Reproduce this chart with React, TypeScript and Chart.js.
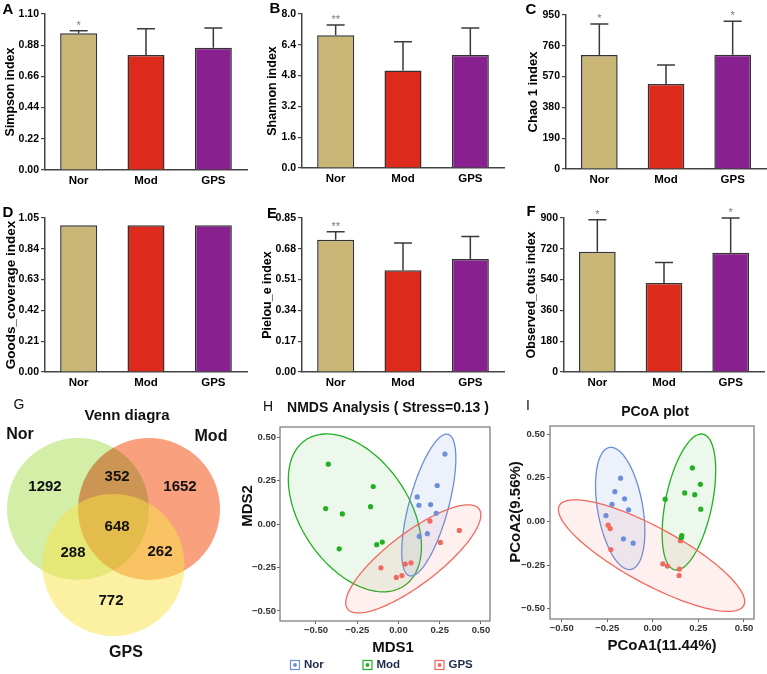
import React, { useEffect, useRef } from "react";
import { Chart, registerables } from "chart.js";

Chart.register(...registerables);

const FONT = "'Liberation Sans', Arial, Helvetica, sans-serif";

// ---------------- Alpha diversity (bar charts) ----------------
const groups = ["Nor", "Mod", "GPS"];
const barColors = ["#c9b677", "#dc2b1b", "#88208f"];

const simpsonMean = [0.964, 0.811, 0.862];
const simpsonSD = [0.018, 0.185, 0.139];
const simpsonSig = ["*", "", ""];
const simpsonTicks = [0, 0.22, 0.44, 0.66, 0.88, 1.1];

const shannonMean = [6.89, 5.07, 5.87];
const shannonSD = [0.54, 1.49, 1.4];
const shannonSig = ["**", "", ""];
const shannonTicks = [0, 1.6, 3.2, 4.8, 6.4, 8.0];

const chaoMean = [703, 524, 705];
const chaoSD = [191, 117, 206];
const chaoSig = ["*", "", "*"];
const chaoTicks = [0, 190, 380, 570, 760, 950];

const goodsMean = [1.0, 1.0, 1.0];
const goodsSD = [0, 0, 0];
const goodsSig = ["", "", ""];
const goodsTicks = [0, 0.21, 0.42, 0.63, 0.84, 1.05];

const pielouMean = [0.73, 0.561, 0.624];
const pielouSD = [0.044, 0.151, 0.124];
const pielouSig = ["**", "", ""];
const pielouTicks = [0, 0.17, 0.34, 0.51, 0.68, 0.85];

const otusMean = [703, 520, 697];
const otusSD = [187, 120, 203];
const otusSig = ["*", "", "*"];
const otusTicks = [0, 180, 360, 540, 720, 900];

// ---------------- Venn ----------------
const vennSets = ["Nor", "Mod", "GPS"];
const vennCounts = [1292, 352, 1652, 648, 288, 262, 772];
// layout of the Venn (in circle-radius units)
const vennCircleX = [-0.5, 0.5, 0];
const vennCircleY = [0.296, 0.296, -0.493];
const vennRadius = 1;
const vennCountX = [-0.965, 0.05, 0.937, 0.05, -0.57, 0.655, -0.035];
const vennCountY = [0.606, 0.746, 0.606, 0.042, -0.324, -0.31, -1.0];
const vennSetLabelX = [-1.317, 1.373, 0.176];
const vennSetLabelY = [1.338, 1.31, -1.732];

// ---------------- NMDS ----------------
const nmdsNorX = [0.282, 0.235, 0.114, 0.124, 0.195, 0.229, 0.175, 0.126];
const nmdsNorY = [0.404, 0.223, 0.157, 0.109, 0.113, 0.063, -0.055, -0.07];
const nmdsModX = [-0.425, -0.153, -0.441, -0.34, -0.169, -0.132, -0.098, -0.359];
const nmdsModY = [0.346, 0.217, 0.09, 0.059, 0.101, -0.118, -0.103, -0.142];
const nmdsGpsX = [0.191, 0.369, 0.254, -0.106, 0.041, 0.076, -0.013, 0.021];
const nmdsGpsY = [0.018, -0.036, -0.105, -0.251, -0.23, -0.223, -0.307, -0.296];
// [cx, cy, semi-major, semi-minor, angle deg]
const nmdsNorEllipse = [0.184, 0.11, 0.424, 0.119, 73.9];
const nmdsModEllipse = [-0.264, 0.065, 0.516, 0.322, -52.9];
const nmdsGpsEllipse = [0.09, -0.2, 0.492, 0.151, 35.6];
const ordTicks = [-0.5, -0.25, 0, 0.25, 0.5];

// ---------------- PCoA ----------------
const pcoaNorX = [-0.177, -0.208, -0.155, -0.224, -0.133, -0.257, -0.161, -0.108];
const pcoaNorY = [0.247, 0.17, 0.129, 0.098, 0.066, 0.033, -0.1, -0.125];
const pcoaModX = [0.217, 0.261, 0.175, 0.23, 0.068, 0.263, 0.159, 0.157];
const pcoaModY = [0.306, 0.212, 0.163, 0.153, 0.127, 0.07, -0.081, -0.092];
const pcoaGpsX = [-0.245, -0.234, -0.23, 0.055, 0.08, 0.146, 0.144, 0.151];
const pcoaGpsY = [-0.022, -0.041, -0.161, -0.243, -0.256, -0.273, -0.31, -0.111];
const pcoaNorEllipse = [-0.179, 0.074, 0.354, 0.124, 99.4];
const pcoaModEllipse = [0.198, 0.111, 0.396, 0.128, 78.9];
const pcoaGpsEllipse = [-0.007, -0.196, 0.581, 0.16, -29.7];

const ordColors = ["#6b8fd9", "#22b022", "#f2685e"];
const ordFills = ["rgba(107,143,217,0.12)", "rgba(34,176,34,0.09)", "rgba(242,104,94,0.1)"];

// ---------------- helpers ----------------
const fnt = (size: number, weight = "bold") => `${weight} ${size}px ${FONT}`;

function drawText(
  ctx: CanvasRenderingContext2D,
  s: string,
  x: number,
  y: number,
  font: string,
  color: string,
  align: CanvasTextAlign = "center",
  baseline: CanvasTextBaseline = "middle",
  rot = 0
) {
  ctx.save();
  ctx.font = font;
  ctx.fillStyle = color;
  ctx.textAlign = align;
  ctx.textBaseline = baseline;
  ctx.translate(x, y);
  if (rot) ctx.rotate(rot);
  ctx.fillText(s, 0, 0);
  ctx.restore();
}

const barPanels = [
  { letter: "A", letterAt: [8, 10], title: "Simpson index", titleSize: 12.5, titleX: 11, mean: simpsonMean, sd: simpsonSD, sig: simpsonSig, ticks: simpsonTicks, dec: 2, box: [0, 0, 255, 195], plot: [45, 247, 14, 170] },
  { letter: "B", letterAt: [275, 9], title: "Shannon index", titleSize: 12.5, titleX: 273, mean: shannonMean, sd: shannonSD, sig: shannonSig, ticks: shannonTicks, dec: 1, box: [250, 0, 257, 195], plot: [302, 504, 14, 168] },
  { letter: "C", letterAt: [531, 10], title: "Chao 1 index", titleSize: 13, titleX: 533, mean: chaoMean, sd: chaoSD, sig: chaoSig, ticks: chaoTicks, dec: 0, box: [505, 0, 262, 195], plot: [566, 766, 15, 169] },
  { letter: "D", letterAt: [8, 213], title: "Goods_coverage index", titleSize: 13.5, titleX: 11, mean: goodsMean, sd: goodsSD, sig: goodsSig, ticks: goodsTicks, dec: 2, box: [0, 190, 255, 210], plot: [45, 247, 218, 372] },
  { letter: "E", letterAt: [272, 214], title: "Pielou_e index", titleSize: 12.5, titleX: 268, mean: pielouMean, sd: pielouSD, sig: pielouSig, ticks: pielouTicks, dec: 2, box: [250, 190, 257, 210], plot: [302, 504, 218, 372] },
  { letter: "F", letterAt: [531, 212], title: "Observed_otus index", titleSize: 12.5, titleX: 532, mean: otusMean, sd: otusSD, sig: otusSig, ticks: otusTicks, dec: 0, box: [505, 190, 262, 210], plot: [564, 764, 218, 372] },
];

function makeBarConfig(p: any): any {
  const [bl, bt, bw, bh] = p.box;
  const [pl, pr, pt, pb] = p.plot;
  const lh = p.titleSize * 1.2;
  const plugin = {
    id: "errbars" + p.letter,
    afterDatasetsDraw(chart: any) {
      const ctx = chart.ctx as CanvasRenderingContext2D;
      const y = chart.scales.y;
      const meta = chart.getDatasetMeta(0);
      ctx.save();
      meta.data.forEach((bar: any, i: number) => {
        const x = bar.x;
        const yBar = bar.y;
        let yTop = yBar;
        if (p.sd[i] > 0) {
          yTop = y.getPixelForValue(p.mean[i] + p.sd[i]);
          ctx.strokeStyle = "#3a3a3a";
          ctx.lineWidth = 1.5;
          ctx.beginPath();
          ctx.moveTo(x, yBar);
          ctx.lineTo(x, yTop);
          ctx.moveTo(x - 9, yTop);
          ctx.lineTo(x + 9, yTop);
          ctx.stroke();
        }
        if (p.sig[i]) drawText(ctx, p.sig[i], x, yTop - 2, fnt(11, "normal"), "#7a7a7a", "center", "alphabetic");
      });
      ctx.restore();
    },
    afterDraw(chart: any) {
      drawText(chart.ctx, p.letter, p.letterAt[0] - bl, p.letterAt[1] - bt, fnt(15), "#000");
    },
  };
  return {
    type: "bar",
    data: {
      labels: groups,
      datasets: [
        {
          data: p.mean,
          backgroundColor: barColors,
          borderColor: "#333333",
          borderWidth: 1.5,
          categoryPercentage: 1,
          barPercentage: 0.55,
        },
      ],
    },
    options: {
      responsive: false,
      animation: false,
      devicePixelRatio: 1,
      events: [],
      layout: { padding: { left: 0, top: pt - bt, right: bl + bw - pr, bottom: 0 } },
      plugins: { legend: { display: false }, tooltip: { enabled: false }, title: { display: false } },
      scales: {
        x: {
          type: "category",
          offset: true,
          grid: { display: false, drawTicks: false },
          border: { display: true, color: "#444", width: 1.5 },
          ticks: { color: "#000", font: { family: FONT, size: 11.5, weight: "bold" }, padding: 4, maxRotation: 0, autoSkip: false },
          afterFit: (s: any) => {
            s.height = bt + bh - pb;
          },
        },
        y: {
          type: "linear",
          min: p.ticks[0],
          max: p.ticks[p.ticks.length - 1],
          grid: { drawOnChartArea: false, drawTicks: true, tickLength: 4, color: "#444", lineWidth: 1.2 },
          border: { display: true, color: "#444", width: 1.5 },
          ticks: {
            color: "#000",
            font: { family: FONT, size: 10.5, weight: "bold" },
            padding: 2,
            callback: (v: any) => Number(v).toFixed(p.dec),
          },
          afterBuildTicks: (s: any) => {
            s.ticks = p.ticks.map((v: number) => ({ value: v }));
          },
          afterFit: (s: any) => {
            s.width = pl - bl;
          },
          title: {
            display: true,
            text: p.title,
            color: "#000",
            font: { family: FONT, size: p.titleSize, weight: "bold" },
            padding: { top: p.titleX - bl - lh / 2, bottom: 0 },
          },
        },
      },
    },
    plugins: [plugin],
  };
}

// ---------------- Venn config ----------------
const VENN_BOX = [0, 390, 250, 284];
const VENN_PX = 71; // pixels per radius unit
const VENN_ORIGIN = [113.5, 530]; // page coords of the unit origin

function makeVennConfig(): any {
  const [bl, bt, bw, bh] = VENN_BOX;
  const ox = VENN_ORIGIN[0] - bl;
  const oy = VENN_ORIGIN[1] - bt;
  const fills = [
    { op: "source-over", c: "rgba(166,222,80,0.5)" },
    { op: "multiply", c: "rgb(249,160,127)" },
    { op: "source-over", c: "rgba(250,228,70,0.5)" },
  ];
  const plugin = {
    id: "venn",
    beforeDatasetsDraw(chart: any) {
      const ctx = chart.ctx as CanvasRenderingContext2D;
      const { x, y } = chart.scales;
      ctx.save();
      vennSets.forEach((_s, k) => {
        const cx = x.getPixelForValue(vennCircleX[k]);
        const cy = y.getPixelForValue(vennCircleY[k]);
        const r = x.getPixelForValue(vennCircleX[k] + vennRadius) - cx;
        ctx.globalCompositeOperation = fills[k].op as GlobalCompositeOperation;
        ctx.fillStyle = fills[k].c;
        ctx.beginPath();
        ctx.arc(cx, cy, r, 0, Math.PI * 2);
        ctx.fill();
      });
      ctx.restore();
    },
    afterDatasetsDraw(chart: any) {
      const ctx = chart.ctx as CanvasRenderingContext2D;
      const { x, y } = chart.scales;
      const meta = chart.getDatasetMeta(0);
      meta.data.forEach((pt: any, i: number) => {
        drawText(ctx, String(vennCounts[i]), pt.x, pt.y, fnt(15), "#111");
      });
      vennSets.forEach((s, k) => {
        drawText(ctx, s, x.getPixelForValue(vennSetLabelX[k]), y.getPixelForValue(vennSetLabelY[k]), fnt(16), "#111");
      });
      drawText(ctx, "Venn diagra", x.getPixelForValue(0.19), y.getPixelForValue(1.606), fnt(15), "#111");
      drawText(ctx, "G", 19 - bl, 405 - bt, fnt(14, "normal"), "#111");
    },
  };
  return {
    type: "scatter",
    data: {
      datasets: [
        {
          data: vennCounts.map((_c, i) => ({ x: vennCountX[i], y: vennCountY[i] })),
          pointRadius: 0,
        },
      ],
    },
    options: {
      responsive: false,
      animation: false,
      devicePixelRatio: 1,
      events: [],
      layout: { padding: 0 },
      plugins: { legend: { display: false }, tooltip: { enabled: false } },
      scales: {
        x: { type: "linear", display: false, min: -ox / VENN_PX, max: (bw - ox) / VENN_PX },
        y: { type: "linear", display: false, min: -(bh - oy) / VENN_PX, max: oy / VENN_PX },
      },
    },
    plugins: [plugin],
  };
}

// ---------------- Ordination configs ----------------
const ordPanels = [
  {
    id: "H",
    letterAt: [268, 407],
    title: "NMDS Analysis ( Stress=0.13 )",
    titleAt: [388, 408],
    xTitle: "MDS1",
    xTitleAt: [393, 648],
    yTitle: "MDS2",
    yTitleAt: [248, 506],
    box: [232, 390, 270, 284],
    plot: [280, 490, 427, 621],
    xRange: [-0.718, 0.555],
    yRange: [-0.558, 0.56],
    xs: [nmdsNorX, nmdsModX, nmdsGpsX],
    ys: [nmdsNorY, nmdsModY, nmdsGpsY],
    ellipses: [nmdsModEllipse, nmdsNorEllipse, nmdsGpsEllipse],
    ellipseOrder: [1, 0, 2],
    legend: true,
    yTickPad: 1,
  },
  {
    id: "I",
    letterAt: [528, 406],
    title: "PCoA plot",
    titleAt: [655, 412],
    xTitle: "PCoA1(11.44%)",
    xTitleAt: [662, 646],
    yTitle: "PCoA2(9.56%)",
    yTitleAt: [516, 512],
    box: [500, 390, 267, 284],
    plot: [550, 754, 426, 619],
    xRange: [-0.564, 0.555],
    yRange: [-0.559, 0.546],
    xs: [pcoaNorX, pcoaModX, pcoaGpsX],
    ys: [pcoaNorY, pcoaModY, pcoaGpsY],
    ellipses: [pcoaNorEllipse, pcoaModEllipse, pcoaGpsEllipse],
    ellipseOrder: [0, 1, 2],
    legend: false,
    yTickPad: 2,
  },
];

const fmtOrd = (v: number) => (v < 0 ? "\u2212" : "") + Math.abs(v).toFixed(2);

function makeOrdConfig(p: any): any {
  const [bl, bt, bw, bh] = p.box;
  const [pl, pr, pt, pb] = p.plot;
  const plugin = {
    id: "ord" + p.id,
    beforeDatasetsDraw(chart: any) {
      const ctx = chart.ctx as CanvasRenderingContext2D;
      const { x, y } = chart.scales;
      const ca = chart.chartArea;
      ctx.save();
      ctx.beginPath();
      ctx.rect(ca.left, ca.top, ca.right - ca.left, ca.bottom - ca.top);
      ctx.clip();
      p.ellipses.forEach((e: number[], j: number) => {
        const k = p.ellipseOrder[j];
        const [cx, cy, a, b, deg] = e;
        const th = (deg * Math.PI) / 180;
        ctx.beginPath();
        const N = 160;
        for (let i = 0; i <= N; i++) {
          const t = (i / N) * Math.PI * 2;
          const dx = a * Math.cos(t) * Math.cos(th) - b * Math.sin(t) * Math.sin(th);
          const dy = a * Math.cos(t) * Math.sin(th) + b * Math.sin(t) * Math.cos(th);
          const px = x.getPixelForValue(cx + dx);
          const py = y.getPixelForValue(cy + dy);
          if (i === 0) ctx.moveTo(px, py);
          else ctx.lineTo(px, py);
        }
        ctx.closePath();
        ctx.fillStyle = ordFills[k];
        ctx.fill();
        ctx.strokeStyle = ordColors[k];
        ctx.lineWidth = 1.3;
        ctx.stroke();
      });
      ctx.restore();
    },
    afterDraw(chart: any) {
      const ctx = chart.ctx as CanvasRenderingContext2D;
      const ca = chart.chartArea;
      ctx.save();
      ctx.strokeStyle = "#808080";
      ctx.lineWidth = 1.3;
      ctx.strokeRect(ca.left, ca.top, ca.right - ca.left, ca.bottom - ca.top);
      ctx.restore();
      drawText(ctx, p.id, p.letterAt[0] - bl, p.letterAt[1] - bt, fnt(14, "normal"), "#111");
      drawText(ctx, p.title, p.titleAt[0] - bl, p.titleAt[1] - bt, fnt(14), "#111");
      drawText(ctx, p.xTitle, p.xTitleAt[0] - bl, p.xTitleAt[1] - bt, fnt(15), "#111");
      drawText(ctx, p.yTitle, p.yTitleAt[0] - bl, p.yTitleAt[1] - bt, fnt(15), "#111", "center", "middle", -Math.PI / 2);
      if (p.legend) {
        const boxX = [295, 367.5, 439.5];
        const ly = 665 - bt;
        groups.forEach((g, k) => {
          const bx = boxX[k] - bl;
          ctx.save();
          ctx.strokeStyle = ordColors[k];
          ctx.lineWidth = 1.2;
          ctx.strokeRect(bx - 4.5, ly - 4.5, 9, 9);
          ctx.fillStyle = ordColors[k];
          ctx.beginPath();
          ctx.arc(bx, ly, 1.9, 0, Math.PI * 2);
          ctx.fill();
          ctx.restore();
          drawText(ctx, g, bx + 9, ly, fnt(11.5), "#1e2a4a", "left", "middle");
        });
      }
    },
  };
  const axis = (range: number[], isX: boolean) => ({
    type: "linear",
    min: range[0],
    max: range[1],
    grid: { drawOnChartArea: false, drawTicks: true, tickLength: 3, color: "#666", lineWidth: 1 },
    border: { display: false },
    ticks: {
      color: "#333",
      font: { family: FONT, size: 9.5, weight: "bold" },
      padding: isX ? 1 : p.yTickPad,
      maxRotation: 0,
      callback: (v: any) => fmtOrd(Number(v)),
    },
    afterBuildTicks: (s: any) => {
      s.ticks = ordTicks.map((v) => ({ value: v }));
    },
    afterFit: (s: any) => {
      if (isX) s.height = bt + bh - pb;
      else s.width = pl - bl;
    },
  });
  return {
    type: "scatter",
    data: {
      datasets: groups.map((g, k) => ({
        label: g,
        data: p.xs[k].map((xv: number, i: number) => ({ x: xv, y: p.ys[k][i] })),
        pointRadius: 2.6,
        pointBackgroundColor: ordColors[k],
        pointBorderWidth: 0,
        showLine: false,
      })),
    },
    options: {
      responsive: false,
      animation: false,
      devicePixelRatio: 1,
      events: [],
      layout: { padding: { left: 0, top: pt - bt, right: bl + bw - pr, bottom: 0 } },
      plugins: { legend: { display: false }, tooltip: { enabled: false } },
      scales: { x: axis(p.xRange, true), y: axis(p.yRange, false) },
    },
    plugins: [plugin],
  };
}

function ChartCanvas({ box, make }: { box: number[]; make: () => any }) {
  const ref = useRef<HTMLCanvasElement | null>(null);
  useEffect(() => {
    if (!ref.current) return;
    const chart = new Chart(ref.current, make());
    return () => chart.destroy();
  }, []);
  return (
    <canvas
      ref={ref}
      width={box[2]}
      height={box[3]}
      style={{ position: "absolute", left: box[0], top: box[1], width: box[2], height: box[3] }}
    />
  );
}

export default function App() {
  return (
    <div
      style={{
        position: "fixed",
        left: 0,
        top: 0,
        width: 767,
        height: 674,
        background: "#ffffff",
        overflow: "hidden",
      }}
    >
      {barPanels.map((p) => (
        <ChartCanvas key={p.letter} box={p.box} make={() => makeBarConfig(p)} />
      ))}
      <ChartCanvas box={VENN_BOX} make={makeVennConfig} />
      {ordPanels.map((p) => (
        <ChartCanvas key={p.id} box={p.box} make={() => makeOrdConfig(p)} />
      ))}
    </div>
  );
}
